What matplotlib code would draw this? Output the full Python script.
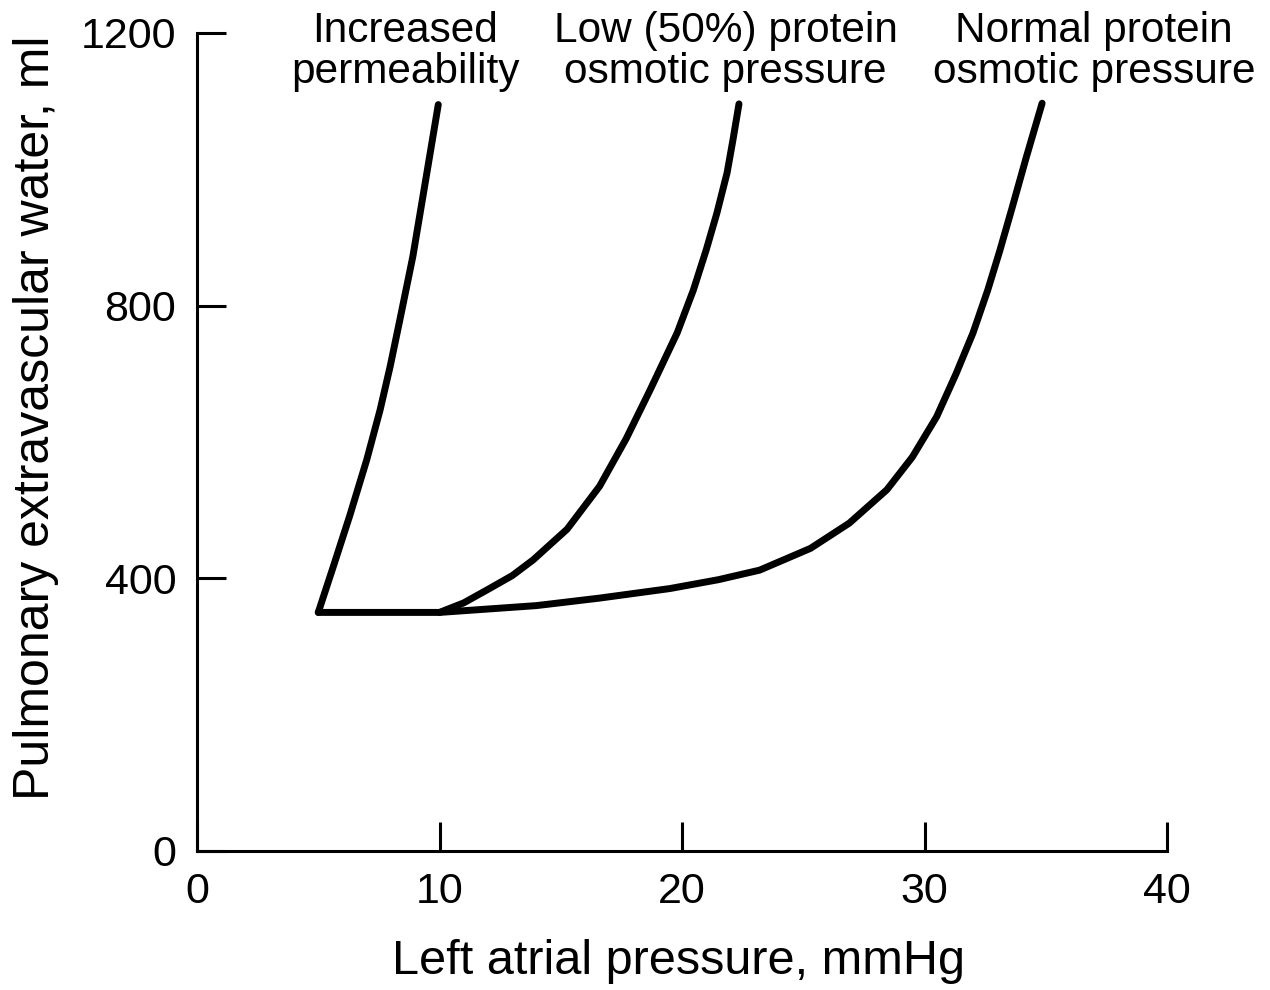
import matplotlib
matplotlib.use("Agg")
import matplotlib.pyplot as plt

plt.rcParams['font.family'] = ['Liberation Sans', 'DejaVu Sans']

# values
perm_x = [5.0, 5.6, 6.3, 7.0, 7.55, 7.96, 8.37, 8.9, 9.4, 9.95]
perm_y = [350, 415, 492, 574, 647, 710, 780, 872, 978, 1095]

low_x = [10.0, 11.0, 11.96, 13.0, 13.86, 15.26, 16.6, 17.7, 18.68, 19.8, 20.47,
         21.0, 21.44, 21.86, 22.1, 22.35]
low_y = [350, 364, 383, 404, 427, 472, 535, 605, 676, 760, 823,
         882, 936, 995, 1043, 1096]

norm_x = [5.0, 10.0, 12.0, 14.0, 16.6, 19.5, 21.5, 23.2, 25.3, 26.9, 28.45, 29.5,
          30.5, 31.3, 32.0, 32.6, 33.1, 33.6, 34.2, 34.85]
norm_y = [350, 350, 355, 360, 371, 385, 398, 412, 444, 481, 530, 578,
          637, 700, 760, 822, 880, 942, 1018, 1097]

labels = ["Increased\npermeability", "Low (50%) protein\nosmotic pressure",
          "Normal protein\nosmotic pressure"]
label_x = [8.6, 21.8, 37.0]

xticks = [0, 10, 20, 30, 40]
yticks = [0, 400, 800, 1200]

fig = plt.figure(figsize=(12.7, 9.9), dpi=100)
ax = fig.add_axes([197 / 1270, 1 - 851 / 990, 970 / 1270, 818 / 990])

for xs, ys in [(perm_x, perm_y), (low_x, low_y), (norm_x, norm_y)]:
    ax.plot(xs, ys, color='black', lw=5, solid_capstyle='round',
            solid_joinstyle='round', clip_on=False)

for txt, lx in zip(labels, label_x):
    ax.text(lx, 1173, txt, ha='center', va='center', fontsize=30.5,
            linespacing=1.05, clip_on=False)

ax.set_xlim(0, 40)
ax.set_ylim(0, 1200)
ax.set_xticks(xticks)
ax.set_yticks(yticks)
ax.spines['top'].set_visible(False)
ax.spines['right'].set_visible(False)
for s in ['left', 'bottom']:
    ax.spines[s].set_linewidth(2.2)
ax.tick_params(direction='in', length=21, width=2.2, labelsize=31)
ax.tick_params(axis='x', pad=15)
ax.tick_params(axis='y', pad=15)

fig.text(679 / 1270, 1 - 962 / 990, "Left atrial pressure, mmHg",
         ha='center', va='center', fontsize=35)
fig.text(36 / 1270, 1 - 418 / 990, "Pulmonary extravascular water, ml",
         rotation=90, ha='center', va='center', fontsize=36)

fig.savefig("out.png", dpi=100)
